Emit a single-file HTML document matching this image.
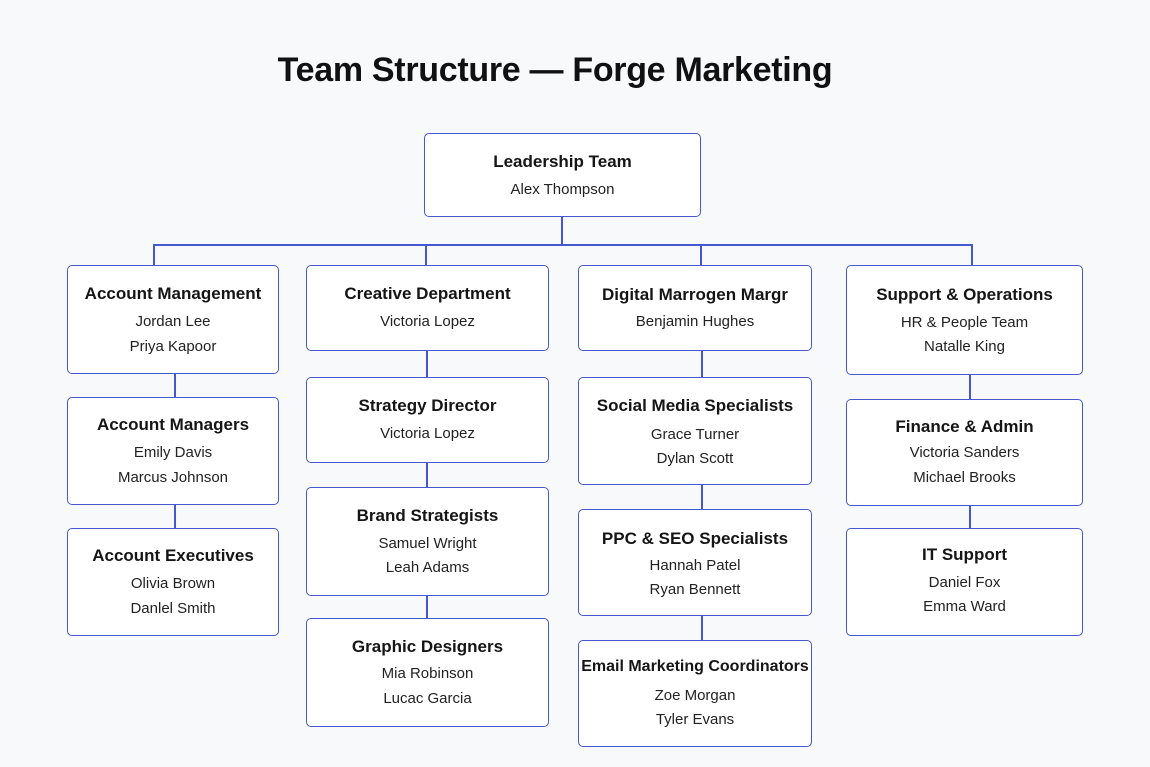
<!DOCTYPE html>
<html><head><meta charset="utf-8"><style>
body{margin:0;width:1150px;height:767px;background:#f8f9fb;font-family:"Liberation Sans",sans-serif;position:relative;overflow:hidden;color:#111}
.t{position:absolute;left:0;width:1110px;top:51px;text-align:center;font-size:34px;font-weight:bold;letter-spacing:-0.3px}
.b{position:absolute;background:#fff;border:1.5px solid #4658d0;border-radius:5px;box-sizing:border-box;text-align:center}
.b div{position:absolute;left:0;right:0;white-space:nowrap}
.h{font-size:17px;font-weight:bold;color:#151515}
.n{font-size:15px;color:#222}
.l{position:absolute;background:#4658d0}
</style></head><body>
<div class="t">Team Structure — Forge Marketing</div>

<div class="l" style="left:561px;top:217px;width:1.5px;height:28px"></div>
<div class="l" style="left:153px;top:244px;width:820px;height:1.5px"></div>
<div class="l" style="left:153px;top:244px;width:1.5px;height:21px"></div>
<div class="l" style="left:425px;top:244px;width:1.5px;height:21px"></div>
<div class="l" style="left:700px;top:244px;width:1.5px;height:21px"></div>
<div class="l" style="left:971px;top:244px;width:1.5px;height:21px"></div>

<div class="l" style="left:174px;top:374px;width:1.5px;height:23px"></div>
<div class="l" style="left:174px;top:505px;width:1.5px;height:23px"></div>
<div class="l" style="left:426px;top:351px;width:1.5px;height:26px"></div>
<div class="l" style="left:426px;top:463px;width:1.5px;height:24px"></div>
<div class="l" style="left:426px;top:596px;width:1.5px;height:22px"></div>
<div class="l" style="left:701px;top:351px;width:1.5px;height:26px"></div>
<div class="l" style="left:701px;top:485px;width:1.5px;height:24px"></div>
<div class="l" style="left:701px;top:616px;width:1.5px;height:24px"></div>
<div class="l" style="left:969px;top:375px;width:1.5px;height:24px"></div>
<div class="l" style="left:969px;top:506px;width:1.5px;height:22px"></div>

<div class="b" style="left:424px;top:133px;width:277px;height:84px"><div class="h" style="top:18px">Leadership Team</div><div class="n" style="top:47px">Alex Thompson</div></div>

<div class="b" style="left:67px;top:265px;width:212px;height:109px"><div class="h" style="top:18px">Account Management</div><div class="n" style="top:47px">Jordan Lee</div><div class="n" style="top:72px">Priya Kapoor</div></div>
<div class="b" style="left:67px;top:397px;width:212px;height:108px"><div class="h" style="top:17px">Account Managers</div><div class="n" style="top:46px">Emily Davis</div><div class="n" style="top:71px">Marcus Johnson</div></div>
<div class="b" style="left:67px;top:528px;width:212px;height:108px"><div class="h" style="top:17px">Account Executives</div><div class="n" style="top:46px">Olivia Brown</div><div class="n" style="top:71px">Danlel Smith</div></div>

<div class="b" style="left:306px;top:265px;width:243px;height:86px"><div class="h" style="top:18px">Creative Department</div><div class="n" style="top:47px">Victoria Lopez</div></div>
<div class="b" style="left:306px;top:377px;width:243px;height:86px"><div class="h" style="top:18px">Strategy Director</div><div class="n" style="top:47px">Victoria Lopez</div></div>
<div class="b" style="left:306px;top:487px;width:243px;height:109px"><div class="h" style="top:18px">Brand Strategists</div><div class="n" style="top:47px">Samuel Wright</div><div class="n" style="top:71px">Leah Adams</div></div>
<div class="b" style="left:306px;top:618px;width:243px;height:109px"><div class="h" style="top:18px">Graphic Designers</div><div class="n" style="top:46px">Mia Robinson</div><div class="n" style="top:71px">Lucac Garcia</div></div>

<div class="b" style="left:578px;top:265px;width:234px;height:86px"><div class="h" style="top:19px">Digital Marrogen Margr</div><div class="n" style="top:47px">Benjamin Hughes</div></div>
<div class="b" style="left:578px;top:377px;width:234px;height:108px"><div class="h" style="top:18px">Social Media Specialists</div><div class="n" style="top:48px">Grace Turner</div><div class="n" style="top:72px">Dylan Scott</div></div>
<div class="b" style="left:578px;top:509px;width:234px;height:107px"><div class="h" style="top:19px">PPC &amp; SEO Specialists</div><div class="n" style="top:47px">Hannah Patel</div><div class="n" style="top:71px">Ryan Bennett</div></div>
<div class="b" style="left:578px;top:640px;width:234px;height:107px"><div class="h" style="top:17px;font-size:16px">Email Marketing Coordinators</div><div class="n" style="top:46px">Zoe Morgan</div><div class="n" style="top:70px">Tyler Evans</div></div>

<div class="b" style="left:846px;top:265px;width:237px;height:110px"><div class="h" style="top:19px">Support &amp; Operations</div><div class="n" style="top:48px">HR &amp; People Team</div><div class="n" style="top:72px">Natalle King</div></div>
<div class="b" style="left:846px;top:399px;width:237px;height:107px"><div class="h" style="top:17px">Finance &amp; Admin</div><div class="n" style="top:44px">Victoria Sanders</div><div class="n" style="top:69px">Michael Brooks</div></div>
<div class="b" style="left:846px;top:528px;width:237px;height:108px"><div class="h" style="top:16px">IT Support</div><div class="n" style="top:45px">Daniel Fox</div><div class="n" style="top:69px">Emma Ward</div></div>
</body></html>
